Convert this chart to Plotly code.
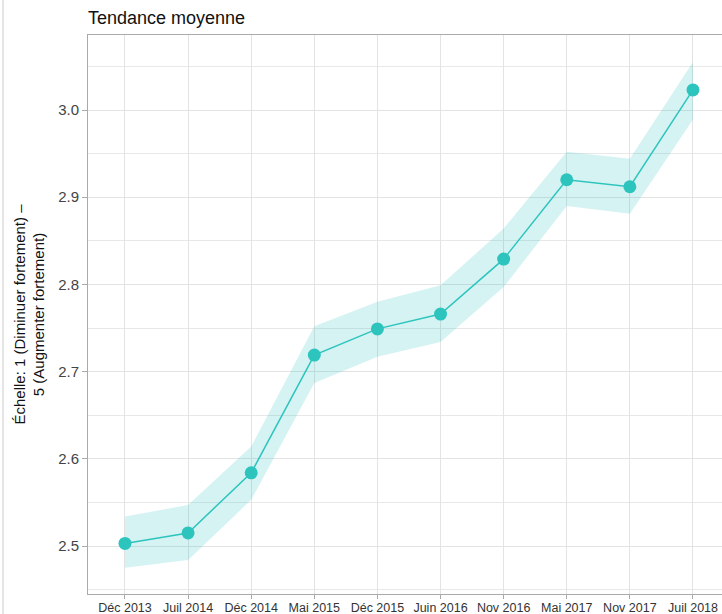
import plotly.graph_objects as go

categories = ["Déc 2013", "Juil 2014", "Déc 2014", "Mai 2015", "Déc 2015",
              "Juin 2016", "Nov 2016", "Mai 2017", "Nov 2017", "Juil 2018"]
mean_values = [2.503, 2.515, 2.584, 2.719, 2.749, 2.766, 2.829, 2.920, 2.912, 3.023]
upper_values = [2.534, 2.547, 2.614, 2.752, 2.780, 2.799, 2.864, 2.952, 2.944, 3.055]
lower_values = [2.475, 2.484, 2.553, 2.687, 2.717, 2.734, 2.797, 2.890, 2.881, 2.989]
y_ticks = [2.5, 2.6, 2.7, 2.8, 2.9, 3.0]
y_tick_labels = ["2.5", "2.6", "2.7", "2.8", "2.9", "3.0"]

line_color = "#2EC4BE"
band_color = "rgba(46,196,190,0.2)"
font_family = "Liberation Sans, Arial, sans-serif"

fig = go.Figure()
fig.add_trace(go.Scatter(x=categories, y=upper_values, mode="lines",
                         line=dict(width=0), hoverinfo="skip", showlegend=False))
fig.add_trace(go.Scatter(x=categories, y=lower_values, mode="lines",
                         line=dict(width=0), fill="tonexty", fillcolor=band_color,
                         hoverinfo="skip", showlegend=False))
fig.add_trace(go.Scatter(x=categories, y=mean_values, mode="lines+markers",
                         line=dict(color=line_color, width=1.5),
                         marker=dict(color=line_color, size=13),
                         showlegend=False))

fig.update_layout(
    width=722, height=614,
    margin=dict(l=88, r=0, t=35, b=20, autoexpand=False),
    paper_bgcolor="white", plot_bgcolor="white",
    font=dict(family=font_family, color="#333"),
    title=dict(text="Tendance moyenne", x=88/722, xanchor="left",
               y=1 - 18/614, yanchor="middle",
               font=dict(size=18, color="#111", family=font_family)),
    xaxis=dict(type="category", range=[-0.586, 9.46], automargin=False,
               showgrid=True, gridcolor="#e3e3e3", gridwidth=1,
               showline=True, linecolor="#aaaaaa", linewidth=1, mirror=True,
               ticks="outside", ticklen=4, tickcolor="#aaaaaa",
               ticklabelstandoff=-2,
               tickfont=dict(size=12.5, color="#333"), zeroline=False),
    yaxis=dict(range=[2.445, 3.086], tickvals=y_ticks, ticktext=y_tick_labels,
               automargin=False,
               showgrid=True, gridcolor="#e3e3e3", gridwidth=1,
               minor=dict(dtick=0.05, tick0=2.45, showgrid=True, gridcolor="#e8e8e8", gridwidth=1, ticks=""),
               showline=True, linecolor="#aaaaaa", linewidth=1,
               ticks="outside", ticklen=5, tickcolor="#aaaaaa",
               tickfont=dict(size=15, color="#444"), zeroline=False,
               title=dict(text="Échelle: 1 (Diminuer fortement) –<br>5 (Augmenter fortement)",
                          font=dict(size=15, color="#111"), standoff=9)),
)
fig.add_shape(type="line", xref="paper", yref="paper", x0=-85/634, x1=-85/634,
              y0=-20/559, y1=1 + 35/559, line=dict(color="#cccccc", width=1))
fig.write_html("out.html", config={"displayModeBar": False},
               post_script="document.body.style.margin='0';document.body.style.overflow='hidden';")
